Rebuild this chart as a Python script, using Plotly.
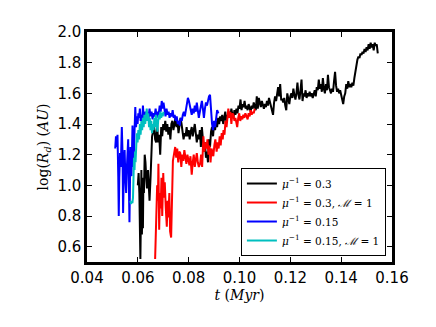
import plotly.graph_objects as go

# ---- data ----
black_t = [0.0600, 0.0603, 0.0606, 0.0608, 0.0610, 0.0612, 0.0614, 0.0616, 0.0618, 0.0620,
           0.0622, 0.0624, 0.0627, 0.0630, 0.0633, 0.0636, 0.0640, 0.0643, 0.0646, 0.0650,
           0.0653, 0.0656, 0.0660, 0.0664, 0.0668, 0.0672, 0.0676, 0.0680, 0.0684, 0.0688,
           0.0692, 0.0696, 0.0700, 0.0704, 0.0708, 0.0712, 0.0716, 0.0720, 0.0724, 0.0728,
           0.0732, 0.0736, 0.0740, 0.0744, 0.0748, 0.0752, 0.0756, 0.0760, 0.0764, 0.0768,
           0.0772, 0.0776, 0.0780, 0.0784, 0.0788, 0.0792, 0.0796, 0.0800, 0.0804, 0.0808,
           0.0812, 0.0816, 0.0820, 0.0824, 0.0828, 0.0832, 0.0836, 0.0840, 0.0844, 0.0848,
           0.0852, 0.0856, 0.0860, 0.0864, 0.0868, 0.0872, 0.0876, 0.0880, 0.0884, 0.0888,
           0.0892, 0.0896, 0.0900, 0.0904, 0.0908, 0.0912, 0.0916, 0.0920, 0.0924, 0.0928,
           0.0932, 0.0936, 0.0940, 0.0944, 0.0948, 0.0952, 0.0956, 0.0960, 0.0964, 0.0968,
           0.0972, 0.0976, 0.0980, 0.0984, 0.0988, 0.0992, 0.0996, 0.1000, 0.1004, 0.1008,
           0.1012, 0.1016, 0.1020, 0.1024, 0.1028, 0.1032, 0.1036, 0.1040, 0.1044, 0.1048,
           0.1052, 0.1056, 0.1060, 0.1064, 0.1068, 0.1072, 0.1076, 0.1080, 0.1084, 0.1088,
           0.1092, 0.1096, 0.1100, 0.1104, 0.1108, 0.1112, 0.1116, 0.1120, 0.1124, 0.1128,
           0.1132, 0.1136, 0.1140, 0.1144, 0.1148, 0.1152, 0.1156, 0.1160, 0.1164, 0.1168,
           0.1172, 0.1176, 0.1180, 0.1184, 0.1188, 0.1192, 0.1196, 0.1200, 0.1204, 0.1208,
           0.1212, 0.1216, 0.1220, 0.1224, 0.1228, 0.1232, 0.1236, 0.1240, 0.1244, 0.1248,
           0.1252, 0.1256, 0.1260, 0.1264, 0.1268, 0.1272, 0.1276, 0.1280, 0.1284, 0.1288,
           0.1292, 0.1296, 0.1300, 0.1304, 0.1308, 0.1312, 0.1316, 0.1320, 0.1324, 0.1328,
           0.1332, 0.1336, 0.1340, 0.1344, 0.1348, 0.1352, 0.1356, 0.1360, 0.1364, 0.1368,
           0.1372, 0.1376, 0.1380, 0.1384, 0.1388, 0.1392, 0.1396, 0.1400, 0.1404, 0.1408,
           0.1412, 0.1416, 0.1420, 0.1424, 0.1428, 0.1432, 0.1436, 0.1440, 0.1444, 0.1448,
           0.1452, 0.1456, 0.1460, 0.1464, 0.1468, 0.1472, 0.1476, 0.1480, 0.1484, 0.1488,
           0.1492, 0.1496, 0.1500, 0.1504, 0.1508, 0.1512, 0.1516, 0.1520, 0.1524, 0.1528,
           0.1532, 0.1536, 0.1540, 0.1544]
black_y = [1.00, 1.08, 0.95, 0.72, 0.52, 0.78, 1.10, 0.68, 0.85, 0.72,
           1.05, 0.95, 1.20, 1.15, 1.05, 0.98, 1.10, 1.00, 0.90, 1.05,
           1.25, 1.32, 1.35, 1.38, 1.30, 1.28, 1.40, 1.28, 1.33, 1.20,
           1.38, 1.32, 1.40, 1.36, 1.42, 1.35, 1.40, 1.33, 1.38, 1.30,
           1.40, 1.42, 1.36, 1.40, 1.44, 1.38, 1.42, 1.34, 1.38, 1.44,
           1.40, 1.36, 1.30, 1.34, 1.32, 1.38, 1.32, 1.36, 1.30, 1.35,
           1.38, 1.32, 1.36, 1.40, 1.34, 1.28, 1.33, 1.30, 1.36, 1.25,
           1.38, 1.32, 1.22, 1.28, 1.18, 1.22, 1.15, 1.30, 1.25, 1.35,
           1.38, 1.32, 1.40, 1.36, 1.42, 1.38, 1.44, 1.40, 1.45, 1.42,
           1.46, 1.40, 1.44, 1.48, 1.42, 1.46, 1.44, 1.48, 1.45, 1.50,
           1.46, 1.44, 1.49, 1.46, 1.50, 1.47, 1.52, 1.50, 1.56, 1.49,
           1.53, 1.51, 1.55, 1.50, 1.52, 1.49, 1.53, 1.51, 1.48, 1.52,
           1.50, 1.54, 1.51, 1.49, 1.58, 1.50, 1.57, 1.53, 1.51, 1.55,
           1.52, 1.50, 1.53, 1.51, 1.55, 1.52, 1.57, 1.54, 1.52, 1.47,
           1.46, 1.54, 1.58, 1.55, 1.60, 1.64, 1.58, 1.66, 1.56, 1.56,
           1.54, 1.57, 1.52, 1.49, 1.60, 1.56, 1.53, 1.58, 1.60, 1.57,
           1.63, 1.59, 1.56, 1.60, 1.67, 1.59, 1.56, 1.62, 1.69, 1.55,
           1.60, 1.58, 1.62, 1.57, 1.60, 1.58, 1.61, 1.58, 1.60, 1.57,
           1.59, 1.62, 1.58, 1.64, 1.62, 1.69, 1.63, 1.66, 1.61, 1.70,
           1.63, 1.60, 1.66, 1.62, 1.72, 1.64, 1.62, 1.60, 1.63, 1.61,
           1.68, 1.74, 1.65, 1.61, 1.63, 1.60, 1.62, 1.59, 1.56, 1.53,
           1.58, 1.60, 1.66, 1.63, 1.68, 1.64, 1.66, 1.64, 1.67, 1.65,
           1.70, 1.75, 1.79, 1.82, 1.84, 1.83, 1.86, 1.85, 1.87, 1.86,
           1.89, 1.87, 1.90, 1.88, 1.92, 1.89, 1.93, 1.90, 1.92, 1.88,
           1.93, 1.91, 1.92, 1.86]

red_t = [0.0668, 0.0672, 0.0676, 0.0679, 0.0681, 0.0684, 0.0687, 0.0690, 0.0693, 0.0696,
         0.0700, 0.0703, 0.0706, 0.0710, 0.0714, 0.0717, 0.0720, 0.0724, 0.0727, 0.0731,
         0.0734, 0.0738, 0.0742, 0.0747, 0.0751, 0.0755, 0.0759, 0.0763, 0.0767, 0.0771,
         0.0775, 0.0779, 0.0783, 0.0787, 0.0791, 0.0795, 0.0799, 0.0803, 0.0807, 0.0812,
         0.0816, 0.0820, 0.0824, 0.0828, 0.0832, 0.0836, 0.0840, 0.0845, 0.0849, 0.0853,
         0.0858, 0.0862, 0.0866, 0.0870, 0.0874, 0.0878, 0.0882, 0.0886, 0.0890, 0.0894,
         0.0897, 0.0901, 0.0905, 0.0910, 0.0914, 0.0918, 0.0922, 0.0926, 0.0930, 0.0934,
         0.0937, 0.0941, 0.0945, 0.0949, 0.0953, 0.0956, 0.0960, 0.0964, 0.0968, 0.0972,
         0.0976, 0.0980, 0.0984, 0.0988, 0.0991, 0.0995, 0.0999, 0.1003, 0.1007, 0.1011,
         0.1015, 0.1019, 0.1023, 0.1028, 0.1032, 0.1036, 0.1040, 0.1044, 0.1048, 0.1052,
         0.1056, 0.1060]
red_y = [0.52, 0.85, 1.00, 0.90, 1.14, 0.71, 0.95, 0.85, 1.05, 0.80,
         1.08, 0.92, 1.02, 0.85, 0.73, 0.90, 0.79, 0.95, 0.70, 0.66,
         0.90, 1.16, 1.20, 1.25, 1.18, 1.24, 1.15, 1.22, 1.21, 1.12,
         1.20, 1.16, 1.23, 1.18, 1.14, 1.20, 1.17, 1.13, 1.19, 1.07,
         1.15, 1.20, 1.12, 1.18, 1.21, 1.15, 1.12, 1.14, 1.20, 1.12,
         1.32, 1.22, 1.28, 1.24, 1.30, 1.20, 1.26, 1.15, 1.24, 1.21,
         1.19, 1.26, 1.30, 1.22, 1.28, 1.24, 1.32, 1.26, 1.34, 1.30,
         1.36, 1.33, 1.42, 1.38, 1.46, 1.50, 1.44, 1.48, 1.40, 1.47,
         1.46, 1.42, 1.44, 1.40, 1.38, 1.44, 1.47, 1.42, 1.45, 1.43,
         1.46, 1.44, 1.47, 1.45, 1.43, 1.47, 1.45, 1.49, 1.46, 1.48,
         1.47, 1.50]

blue_t = [0.0511, 0.0514, 0.0517, 0.0520, 0.0523, 0.0525, 0.0527, 0.0530, 0.0533, 0.0535,
          0.0537, 0.0540, 0.0542, 0.0545, 0.0548, 0.0551, 0.0554, 0.0557, 0.0560, 0.0562,
          0.0564, 0.0567, 0.0569, 0.0571, 0.0573, 0.0575, 0.0577, 0.0579, 0.0581, 0.0583,
          0.0586, 0.0588, 0.0590, 0.0593, 0.0596, 0.0599, 0.0602, 0.0605, 0.0608, 0.0611,
          0.0614, 0.0617, 0.0620, 0.0623, 0.0626, 0.0630, 0.0634, 0.0638, 0.0642, 0.0646,
          0.0650, 0.0654, 0.0658, 0.0662, 0.0666, 0.0670, 0.0674, 0.0678, 0.0682, 0.0686,
          0.0690, 0.0694, 0.0698, 0.0701, 0.0705, 0.0709, 0.0713, 0.0717, 0.0721, 0.0725,
          0.0729, 0.0733, 0.0737, 0.0741, 0.0745, 0.0749, 0.0753, 0.0757, 0.0761, 0.0765,
          0.0769, 0.0773, 0.0777, 0.0781, 0.0785, 0.0789, 0.0793, 0.0797, 0.0801, 0.0805,
          0.0809, 0.0812, 0.0816, 0.0820, 0.0824, 0.0828, 0.0832, 0.0836, 0.0840, 0.0844,
          0.0848, 0.0852, 0.0856, 0.0860, 0.0864, 0.0868, 0.0872, 0.0876, 0.0880, 0.0884,
          0.0888, 0.0892, 0.0896, 0.0900, 0.0904, 0.0908, 0.0912, 0.0917]
blue_y = [1.24, 1.32, 1.25, 1.33, 1.06, 0.80, 1.05, 1.21, 1.12, 1.30,
          1.38, 1.20, 0.82, 1.10, 1.23, 1.05, 0.95, 1.12, 1.20, 1.30,
          1.10, 0.76, 1.00, 1.25, 1.15, 1.06, 1.30, 1.39, 1.22, 1.12,
          1.30, 1.45, 1.51, 1.38, 1.45, 1.40, 1.47, 1.44, 1.50, 1.42,
          1.46, 1.40, 1.52, 1.45, 1.43, 1.48, 1.42, 1.47, 1.44, 1.50,
          1.45, 1.48, 1.43, 1.47, 1.45, 1.50, 1.44, 1.48, 1.46, 1.52,
          1.48, 1.55, 1.50, 1.54, 1.48, 1.45, 1.50, 1.46, 1.48, 1.44,
          1.47, 1.45, 1.49, 1.44, 1.46, 1.42, 1.45, 1.40, 1.42, 1.39,
          1.44, 1.42, 1.46, 1.48, 1.45, 1.50, 1.53, 1.57, 1.55, 1.52,
          1.49, 1.46, 1.50, 1.47, 1.52, 1.48, 1.54, 1.50, 1.44, 1.48,
          1.52, 1.55, 1.50, 1.44, 1.50, 1.54, 1.52, 1.56, 1.58, 1.59,
          1.48, 1.40, 1.36, 1.42, 1.38, 1.45, 1.49, 1.47]

cyan_t = [0.0570, 0.0573, 0.0576, 0.0579, 0.0581, 0.0583, 0.0585, 0.0587, 0.0589, 0.0591,
          0.0593, 0.0596, 0.0599, 0.0602, 0.0605, 0.0608, 0.0611, 0.0614, 0.0617, 0.0620,
          0.0623, 0.0626, 0.0629, 0.0632, 0.0635, 0.0638, 0.0641, 0.0644, 0.0647, 0.0650,
          0.0653, 0.0656, 0.0659, 0.0662, 0.0665, 0.0668, 0.0671, 0.0674, 0.0677, 0.0680,
          0.0683, 0.0686, 0.0689, 0.0692, 0.0695, 0.0698, 0.0701]
cyan_y = [0.90, 0.88, 0.89, 0.89, 0.92, 1.06, 1.18, 1.10, 1.22, 1.15,
          1.25, 1.34, 1.28, 1.36, 1.30, 1.40, 1.33, 1.42, 1.36, 1.44,
          1.38, 1.46, 1.40, 1.45, 1.50, 1.42, 1.47, 1.38, 1.44, 1.36,
          1.42, 1.34, 1.40, 1.36, 1.44, 1.38, 1.46, 1.40, 1.35, 1.42,
          1.46, 1.43, 1.48, 1.44, 1.47, 1.45, 1.48]

x_ticks = [0.04, 0.06, 0.08, 0.10, 0.12, 0.14, 0.16]
y_ticks = [0.6, 0.8, 1.0, 1.2, 1.4, 1.6, 1.8, 2.0]

series = [
    (black_t, black_y, "#000000", "<i>μ</i><sup>−1</sup> = 0.3"),
    (red_t, red_y, "#ff0000", "<i>μ</i><sup>−1</sup> = 0.3, <i>ℳ</i> = 1"),
    (blue_t, blue_y, "#0000ff", "<i>μ</i><sup>−1</sup> = 0.15"),
    (cyan_t, cyan_y, "#00bfbf", "<i>μ</i><sup>−1</sup> = 0.15, <i>ℳ</i> = 1"),
]

fig = go.Figure()
for t, y, c, name in series:
    fig.add_trace(go.Scatter(x=t, y=y, mode="lines", name=name,
                             line=dict(color=c, width=2)))

axis_common = dict(
    showgrid=False, zeroline=False, showline=True, linecolor="black", linewidth=2.5,
    mirror="allticks", ticks="inside", ticklen=5, tickwidth=1, tickcolor="black",
    tickfont=dict(family="DejaVu Sans", size=15, color="black"),
)
fig.update_xaxes(range=[0.04, 0.16], tickvals=x_ticks, tickformat=".2f",
                 title=dict(text="<i>t</i> (<i>Myr</i>)", standoff=4,
                            font=dict(family="DejaVu Serif", size=14, color="black")),
                 **axis_common)
fig.update_yaxes(range=[0.5, 2.0], tickvals=y_ticks, tickformat=".1f",
                 title=dict(text="log(<i>R</i><sub><i>d</i></sub>) (<i>AU</i>)", standoff=6,
                            font=dict(family="DejaVu Serif", size=14, color="black")),
                 **axis_common)

fig.update_layout(
    width=436, height=327,
    margin=dict(l=79, r=52, t=24, b=73),
    paper_bgcolor="white", plot_bgcolor="white",
    showlegend=True,
    legend=dict(x=0.98, y=0.026, xanchor="right", yanchor="bottom",
                bgcolor="white", bordercolor="black", borderwidth=1,
                font=dict(family="DejaVu Serif", size=10.5, color="black"),
                tracegroupgap=0, itemwidth=30),
)

fig.write_html("out.html")
